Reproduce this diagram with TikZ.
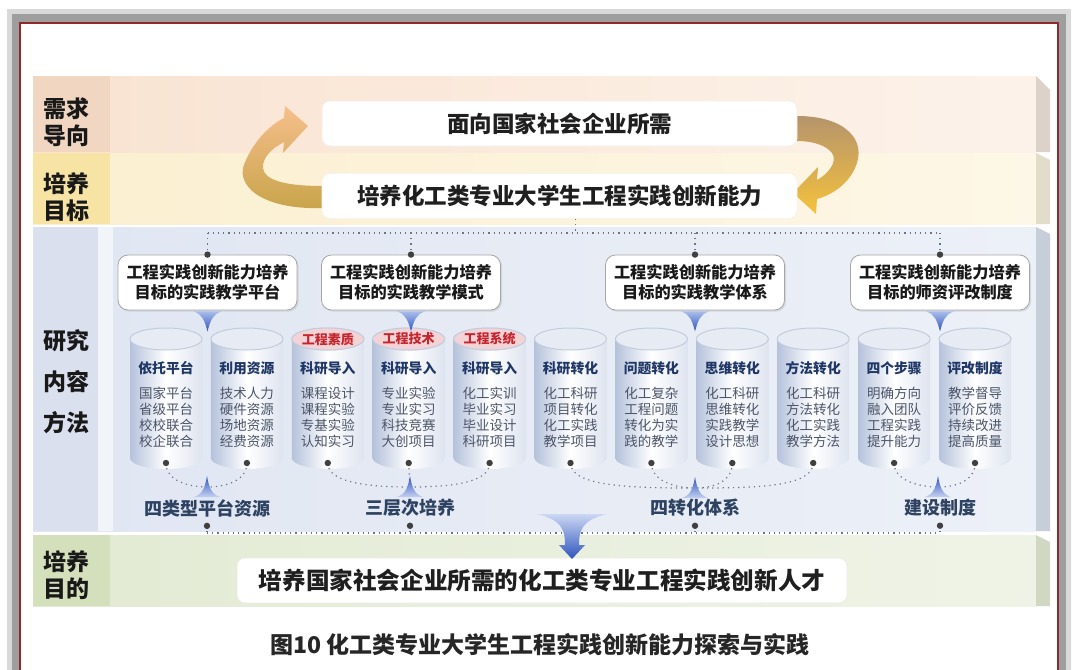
\documentclass[tikz,border=0pt]{standalone}
\usepackage{fontspec}
\setmainfont{Noto Sans CJK SC}
\usepackage{xcolor}
\usepackage{tikz}
\usetikzlibrary{shadows}
\definecolor{frame}{HTML}{8E2A2A}
\definecolor{needbg}{HTML}{F9E3D1}
\definecolor{needlb}{HTML}{F1D7C1}
\definecolor{needside}{HTML}{DCD2C9}
\definecolor{goalbg}{HTML}{FBEFCF}
\definecolor{goallb}{HTML}{F7E4A4}
\definecolor{goalside}{HTML}{E2DDCB}
\definecolor{studybg}{HTML}{E0E6F2}
\definecolor{studylb}{HTML}{DAE0EE}
\definecolor{studyside}{HTML}{C7CDD9}
\definecolor{aimbg}{HTML}{E2EAD3}
\definecolor{aimlb}{HTML}{D4DFBC}
\definecolor{aimside}{HTML}{D0D8C4}
\definecolor{navy}{HTML}{1F3766}
\definecolor{slate}{HTML}{2E4262}
\definecolor{bodytxt}{HTML}{4C5569}
\definecolor{linkgray}{HTML}{6E7484}
\definecolor{arrowblue}{HTML}{2F55BE}
\definecolor{lightblue}{HTML}{A9BDEB}
\definecolor{redtxt}{HTML}{C4262E}
\definecolor{tagpink}{HTML}{F4D3D7}
\definecolor{cylside}{HTML}{B5C2DB}
\definecolor{cyltop}{HTML}{E7EBF3}
\definecolor{cylrim}{HTML}{C3CCDD}
\definecolor{arrowpeach}{HTML}{F6BF8C}
\definecolor{arrowgold}{HTML}{C8A44A}
\definecolor{arrowtan}{HTML}{B5946C}
\definecolor{arrowyellow}{HTML}{F5C23C}

\begin{document}
\begin{tikzpicture}[x=0.5pt, y=-0.5pt,
    bandlabel/.style={font=\fontsize{11.5pt}{13.5pt}\selectfont\bfseries, text=black!90, align=center},
    topbox/.style={draw=#1, fill=white, rounded corners=4pt, minimum width=237.5pt, minimum height=22.5pt,
      font=\fontsize{11.25pt}{13pt}\selectfont\bfseries, text=black!88},
    topbox/.default=black!15,
    hdbox/.style={draw=gray!70, fill=white, rounded corners=5pt, minimum width=89.5pt, minimum height=27.5pt,
      align=center, font=\fontsize{8.1pt}{10pt}\selectfont\bfseries, text=black!90,
      drop shadow={opacity=0.2, shadow xshift=0.8pt, shadow yshift=-0.8pt}},
    cytitle/.style={font=\fontsize{6.9pt}{8pt}\selectfont\bfseries, text=navy},
    cybody/.style={font=\fontsize{6.75pt}{8pt}\selectfont, text=bodytxt, align=center},
    cytag/.style={font=\fontsize{6.5pt}{8pt}\selectfont\bfseries, text=redtxt},
    grplabel/.style={font=\fontsize{9pt}{11pt}\selectfont\bfseries, text=slate},
    link/.style={draw=linkgray, dotted, line width=0.6pt},
    dotmark/.style={fill=black!75}]
\useasboundingbox (0,0) rectangle (1080,669);

% frame and shadow
\fill[white] (0,0) rectangle (1080,669);
\fill[black!15] (7,9) rectangle (1071,690);
\fill[black!38] (12,14) rectangle (1066,690);
\filldraw[draw=frame, line width=1.2pt, fill=white] (20,23) rectangle (1058,700);

% bands
\shade[left color=needbg, right color=needbg!45] (33,76) rectangle (1036,152);
\fill[needlb] (33,76) rectangle (110,152);
\fill[needside] (1036,76) -- (1050,90) -- (1050,152) -- (1036,152) -- cycle;
\shade[left color=goalbg, right color=goalbg!50] (33,153) rectangle (1036,224);
\fill[goallb] (33,153) rectangle (110,224);
\fill[goalside] (1036,153) -- (1050,160) -- (1050,224) -- (1036,224) -- cycle;
\shade[left color=studybg, right color=studybg!60] (33,227) rectangle (1036,531);
\fill[studylb] (33,227) rectangle (98,531);
\fill[studybg!45] (98,227) rectangle (113,531);
\fill[studyside] (1036,227) -- (1050,234) -- (1050,531) -- (1036,531) -- cycle;
\shade[left color=aimbg, right color=aimbg!55] (33,535) rectangle (1036,606);
\fill[aimlb] (33,535) rectangle (110,606);
\fill[aimside] (1036,535) -- (1050,542) -- (1050,606) -- (1036,606) -- cycle;

\node[bandlabel] (lbNeed) at (66,122) {需求\\导向};
\node[bandlabel] (lbGoal) at (66,197) {培养\\目标};
\node[bandlabel, font=\fontsize{11.5pt}{20.5pt}\selectfont\bfseries] (lbStudy) at (66,382) {研究\\内容\\方法};
\node[bandlabel] (lbAim) at (66,575) {培养\\目的};

% loop arrows
\shade[top color=arrowpeach, bottom color=arrowgold]
  (322,208) .. controls (262,210) and (232,185) .. (246,160)
  .. controls (255,140) and (270,125) .. (284,118) -- (285,106) -- (308,126) -- (283,153) -- (284,142)
  .. controls (272,148) and (262,158) .. (263,168) .. controls (264,180) and (285,186) .. (322,186) -- cycle;
\shade[top color=arrowtan, bottom color=arrowyellow]
  (797,116) .. controls (845,116) and (868,140) .. (855,168)
  .. controls (848,184) and (832,195) .. (817,199) -- (816,214) -- (793,193) -- (818,167) -- (817,180)
  .. controls (828,174) and (838,162) .. (832,153) .. controls (826,145) and (812,141) .. (797,141) -- cycle;

\node[topbox=needbg!80!black!20] (need) at (559.5,123.5) {面向国家社会企业所需};
\node[topbox=goallb!80!black!15] (goal) at (559.5,196) {培养化工类专业大学生工程实践创新能力};

% header boxes
\foreach \n/\x/\t in {hdA/207.5/实践教学平台, hdB/411/实践教学模式, hdC/695/实践教学体系, hdD/940/师资评改制度}
  \node[hdbox] (\n) at (\x,282.5) {工程实践创新能力培养\\目标的\t};

\draw[link] ([xshift=8pt]goal.south) -- ++(0,14) coordinate (busT);
\draw[link] (busT -| hdA.north) -- (busT -| hdD.north);
\foreach \n in {hdA,hdB,hdC,hdD} {
  \draw[link] (busT -| \n.north) -- (\n.north);
  \fill[dotmark] (\n.north) circle (1.6pt);
}

% cylinders
\foreach \i/\ttl/\la/\lb/\lc/\ld in {
  1/依托平台/国家平台/省级平台/校校联合/校企联合,
  2/利用资源/技术人力/硬件资源/场地资源/经费资源,
  3/科研导入/课程设计/课程实验/专基实验/认知实习,
  4/科研导入/专业实验/专业实习/科技竞赛/大创项目,
  5/科研导入/化工实训/毕业实习/毕业设计/科研项目,
  6/科研转化/化工科研/项目转化/化工实践/教学项目,
  7/问题转化/化工复杂/工程问题/转化为实/践的教学,
  8/思维转化/化工科研/思维转化/实践教学/设计思想,
  9/方法转化/化工科研/方法转化/化工实践/教学方法,
  10/四个步骤/明确方向/融入团队/工程实践/提升能力,
  11/评改制度/教学督导/评价反馈/持续改进/提高质量}{
  \pgfmathsetmacro{\cx}{166+80.9*(\i-1)}
  \shade[left color=cylside, right color=cylside!45, middle color=white] (\cx-36,339) rectangle (\cx+36,458);
  \shade[left color=cylside, right color=cylside!45, middle color=white] (\cx,458) ellipse [x radius=36, y radius=11];
  \filldraw[fill=cyltop, draw=cylrim, line width=0.5pt] (\cx,339) ellipse [x radius=36, y radius=11];
  \node[cytitle] (cyt\i) at (\cx,368) {\ttl};
  \node[cybody] (cyb\i) at (\cx,417) {\la\\\lb\\\lc\\\ld};
  \coordinate (cyd\i) at (\cx,463);
}
\foreach \i/\tg in {3/工程素质, 4/工程技术, 5/工程系统}{
  \pgfmathsetmacro{\cx}{166+80.9*(\i-1)}
  \filldraw[fill=tagpink, draw=cylrim, line width=0.5pt] (\cx,339) ellipse [x radius=36, y radius=11];
  \node[cytag] (tag\i) at (\cx,339) {\tg};
}

% small funnels under header boxes
\foreach \n in {hdA,hdB,hdC,hdD}{
  \begin{scope}[shift={(\n.south)}]
    \shade[top color=lightblue, bottom color=arrowblue]
      (-14,1) .. controls (-5,4) and (-3,10) .. (0,21) .. controls (3,10) and (5,4) .. (14,1) -- cycle;
  \end{scope}
}

% group links
\coordinate (upA) at (207,487);
\coordinate (upB) at (410,487);
\coordinate (upC) at (695,488);
\coordinate (upD) at (938,487);
\draw[link] (cyd1) .. controls +(0,18) and +(-18,0) .. (upA);
\draw[link] (cyd2) .. controls +(0,18) and +(18,0) .. (upA);
\draw[link] (cyd3) .. controls +(0,20) and +(-40,0) .. (upB);
\draw[link] (cyd5) .. controls +(0,20) and +(40,0) .. (upB);
\draw[link] (cyd4) -- (upB);
\draw[link] (cyd6) .. controls +(0,24) and +(-60,0) .. (upC);
\draw[link] (cyd9) .. controls +(0,24) and +(60,0) .. (upC);
\draw[link] (cyd7) .. controls +(0,18) and +(-20,0) .. (upC);
\draw[link] (cyd8) .. controls +(0,18) and +(20,0) .. (upC);
\draw[link] (cyd10) .. controls +(0,18) and +(-18,0) .. (upD);
\draw[link] (cyd11) .. controls +(0,18) and +(18,0) .. (upD);
\foreach \i in {1,...,11}
  \fill[dotmark] (cyd\i) circle (1.6pt);

\foreach \u in {upA,upB,upC,upD}{
  \begin{scope}[shift={(\u)}]
    \shade[top color=arrowblue, bottom color=lightblue!70]
      (-13,10) .. controls (-4,7) and (-2,0) .. (0,-11) .. controls (2,0) and (4,7) .. (13,10) -- cycle;
  \end{scope}
}

\node[grplabel] (grpA) at (207,508) {四类型平台资源};
\node[grplabel] (grpB) at (410,508) {三层次培养};
\node[grplabel] (grpC) at (695,508) {四转化体系};
\node[grplabel] (grpD) at (940,508) {建设制度};

\coordinate (busB) at (0,533);
\draw[link] (grpA.south |- busB) -- (grpD.south |- busB);
\foreach \g in {grpA,grpB,grpC,grpD} {
  \draw[link] ([yshift=-1pt]\g.south) -- (\g.south |- busB);
  \fill[dotmark] ([yshift=-1pt]\g.south) circle (1.6pt);
}

% outcome
\node[topbox=aimlb!80!black!25, minimum width=305pt, font=\fontsize{11.8pt}{13pt}\selectfont\bfseries] (aim) at (542,580.5) {培养国家社会企业所需的化工类专业工程实践创新人才};

\shade[top color=lightblue!60, bottom color=arrowblue]
  (537,514) .. controls (562,520) and (565,530) .. (565,545) -- (559,545) -- (572,559) -- (585,545) -- (579,545)
  .. controls (579,530) and (582,520) .. (607,514) -- cycle;

\node[font=\fontsize{11.5pt}{14pt}\selectfont\bfseries, text=black!85] (caption) at (540,645) {图10 化工类专业大学生工程实践创新能力探索与实践};
\end{tikzpicture}
\end{document}
